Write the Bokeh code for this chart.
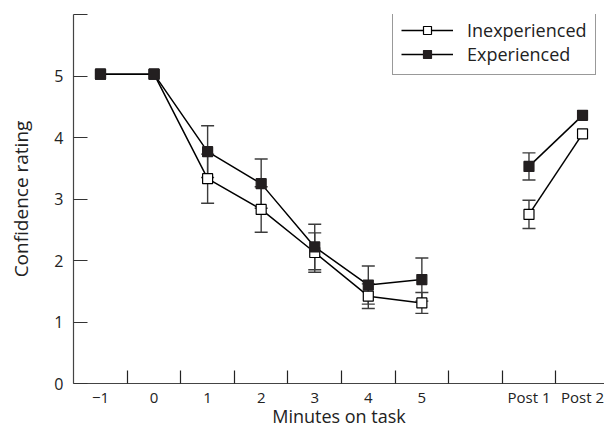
from bokeh.plotting import figure
from bokeh.models import (Range1d, FixedTicker, Whisker, ColumnDataSource,
                          TeeHead, Legend, LegendItem)
from bokeh.embed import file_html
from bokeh.resources import INLINE

# ---- data -------------------------------------------------------------
slots = ["\u22121", "0", "1", "2", "3", "4", "5", "", "Post 1", "Post 2"]   # x slots (one empty gap)
labels = ["\u22121", "0", "1", "2", "3", "4", "5", "Post 1", "Post 2"]
phase = ["task"] * 7 + ["post"] * 2

inexp = [5.03, 5.03, 3.33, 2.83, 2.13, 1.42, 1.31, 2.75, 4.06]
inexp_err = [0, 0, 0.40, 0.37, 0.32, 0.20, 0.17, 0.23, 0]
exp = [5.03, 5.03, 3.77, 3.25, 2.22, 1.60, 1.69, 3.53, 4.36]
exp_err = [0, 0, 0.42, 0.40, 0.37, 0.31, 0.35, 0.22, 0]

y_ticks = [0, 1, 2, 3, 4, 5, 6]
y_labels = ["0", "1", "2", "3", "4", "5", ""]

FONT = "Open Sans"
DARK = "#231f20"
TXT = "#222222"

x = [slots.index(l) for l in labels]

p = figure(width=604, height=430, output_backend="svg", toolbar_location=None,
           x_range=Range1d(-0.504, 9.41), y_range=Range1d(0, 6),
           min_border_left=73, min_border_right=0, min_border_top=14,
           min_border_bottom=45)
p.outline_line_color = None
p.grid.grid_line_color = None
p.background_fill_color = "white"

# error bars
for vals, errs in ((inexp, inexp_err), (exp, exp_err)):
    bx = [xi for xi, e in zip(x, errs) if e > 0]
    up = [v + e for v, e in zip(vals, errs) if e > 0]
    lo = [v - e for v, e in zip(vals, errs) if e > 0]
    src = ColumnDataSource(dict(base=bx, upper=up, lower=lo))
    w = Whisker(base="base", upper="upper", lower="lower", source=src,
                line_color="#3c3c3c", line_width=1.4,
                upper_head=TeeHead(size=13, line_color="#3c3c3c", line_width=1.4),
                lower_head=TeeHead(size=13, line_color="#3c3c3c", line_width=1.4))
    p.add_layout(w)

def seg(vals, ph):
    xs = [xi for xi, pp in zip(x, phase) if pp == ph]
    ys = [v for v, pp in zip(vals, phase) if pp == ph]
    return xs, ys

lines = {}
for name, vals in (("in", inexp), ("ex", exp)):
    rs = []
    for ph in ("task", "post"):
        xs, ys = seg(vals, ph)
        rs.append(p.line(xs, ys, line_color="black", line_width=1.5))
    lines[name] = rs

r_in = p.scatter(x, inexp, marker="square", size=10, fill_color="white",
                 line_color="black", line_width=1.2)
r_ex = p.scatter(x, exp, marker="square", size=10, fill_color=DARK,
                 line_color=DARK, line_width=1.2)

# axes
xa = p.xaxis[0]
xa.ticker = FixedTicker(ticks=x, minor_ticks=[i + 0.5 for i in range(len(slots) - 1)])
xa.major_label_overrides = {xi: l for xi, l in zip(x, labels)}
xa.major_tick_line_color = None
xa.major_tick_in = 0
xa.major_tick_out = 0
xa.minor_tick_in = 13
xa.minor_tick_out = 0
xa.minor_tick_line_color = "#222222"
xa.minor_tick_line_width = 1.2
xa.axis_line_color = "#444444"
xa.axis_line_width = 1.2
xa.major_label_text_font = FONT
xa.major_label_text_font_size = "15px"
xa.major_label_text_color = TXT
xa.major_label_standoff = 3
xa.axis_label = "Minutes on task"
xa.axis_label_text_font = FONT
xa.axis_label_text_font_size = "18px"
xa.axis_label_text_font_style = "normal"
xa.axis_label_text_color = TXT
xa.axis_label_standoff = -6

ya = p.yaxis[0]
ya.ticker = FixedTicker(ticks=y_ticks)
ya.major_label_overrides = {t: l for t, l in zip(y_ticks, y_labels)}
ya.major_tick_in = 14
ya.major_tick_out = 0
ya.major_tick_line_color = "#333333"
ya.major_tick_line_width = 1.2
ya.minor_tick_line_color = None
ya.minor_tick_out = 0
ya.axis_line_color = "#444444"
ya.axis_line_width = 1.2
ya.major_label_text_font = FONT
ya.major_label_text_font_size = "16px"
ya.major_label_text_color = TXT
ya.major_label_standoff = 10
ya.axis_label = "Confidence rating"
ya.axis_label_text_font = FONT
ya.axis_label_text_font_size = "19px"
ya.axis_label_text_font_style = "normal"
ya.axis_label_text_color = TXT
ya.axis_label_standoff = 17

legend = Legend(items=[
    LegendItem(label="Inexperienced", renderers=[lines["in"][0], r_in]),
    LegendItem(label="Experienced", renderers=[lines["ex"][0], r_ex]),
], location=(319, 308))
legend.border_line_color = "#333333"
legend.border_line_width = 1
legend.background_fill_alpha = 1
legend.glyph_width = 52
legend.glyph_height = 20
legend.label_height = 20
legend.label_standoff = 14
legend.spacing = 0
legend.padding = 8
legend.margin = 0
legend.label_text_font = FONT
legend.label_text_font_size = "18px"
legend.label_text_color = TXT
p.add_layout(legend)

open("out.html", "w").write(file_html(p, INLINE))
